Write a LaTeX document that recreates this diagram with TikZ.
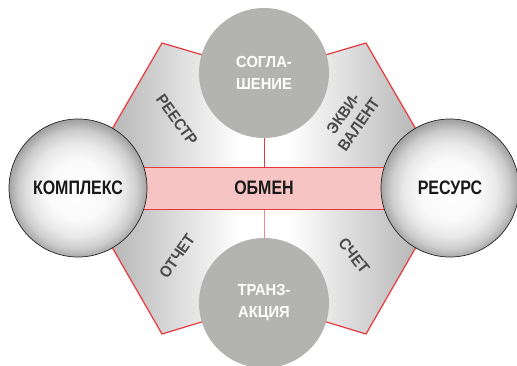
\documentclass[tikz,border=0pt]{standalone}
\usepackage{fontspec}
\newfontfamily\cfa{Liberation Sans}[FakeStretch=0.82]
\newfontfamily\cfb{Liberation Sans}[FakeStretch=0.92]
\definecolor{hexred}{HTML}{E8383D}
\definecolor{bandpink}{HTML}{F7C4C4}
\definecolor{lightred}{HTML}{F08A8A}
\definecolor{discgray}{HTML}{B3B3B1}
\definecolor{labgray}{HTML}{4A4A4A}
\pgfdeclareradialshading{spheresh}{\pgfpoint{0bp}{-1bp}}{color(0bp)=(white); color(11bp)=(white!98!black); color(17bp)=(white!91!black); color(21.5bp)=(white!80!black); color(25bp)=(black!36); color(50bp)=(black!36)}
\begin{document}
\begin{tikzpicture}[x=1pt,y=-1pt,
  sidecircle/.style={circle, draw=black!85, line width=0.7pt, shading=spheresh, minimum size=138pt, inner sep=0pt, font=\cfa\bfseries\fontsize{19.5}{20}\selectfont, text=black!90},
  midcircle/.style={circle, fill=discgray, minimum size=130pt, inner sep=0pt, font=\cfb\bfseries\fontsize{16}{22}\selectfont, text=white, align=center},
  edgelabel/.style={font=\cfb\bfseries\fontsize{16}{19}\selectfont, text=labgray, align=center},
  bandbox/.style={rectangle, fill=bandpink, draw=hexred, line width=1pt, minimum width=372pt, minimum height=42pt, inner sep=0pt, font=\cfa\bfseries\fontsize{19.5}{20}\selectfont, text=black!90},
  octline/.style={draw=hexred, line width=1.2pt, line join=miter},
]
\useasboundingbox (0,0) rectangle (517,365);
\coordinate (L) at (78,188);
\coordinate (TL) at (162,43);
\coordinate (TC) at (264,73);
\coordinate (TR) at (366,43);
\coordinate (R) at (450,188);
\coordinate (BR) at (366,334);
\coordinate (BC) at (264,303);
\coordinate (BL) at (162,334);
\begin{scope}
  \clip (L) -- (TL) -- (TC) -- (TR) -- (R) -- (BR) -- (BC) -- (BL) -- cycle;
  \shade[left color=black!28, right color=white] (112,43) rectangle (240,334);
  \shade[left color=white, right color=black!28] (288,43) rectangle (416,334);
  \fill[white] (239,43) rectangle (289,334);
  \fill[black!28] (70,43) rectangle (113,334);
  \fill[black!28] (415,43) rectangle (460,334);
\end{scope}
\path[octline] (L) -- (TL) -- (TC) -- (TR) -- (R) -- (BR) -- (BC) -- (BL) -- cycle;
\node[bandbox] (ob) at (264,188) {ОБМЕН};
\node[midcircle] (sog) at (264,73) {СОГЛА-\\ШЕНИЕ};
\node[midcircle] (tra) at (264,303) {ТРАНЗ-\\АКЦИЯ};
\draw[hexred, line width=1pt] (sog.south) -- (ob.north);
\draw[lightred, line width=1pt] (ob.south) -- (tra.north);
\node[sidecircle] (kom) at (78,188) {КОМПЛЕКС};
\node[sidecircle] (res) at (450,188) {РЕСУРС};
\node[edgelabel, rotate=-54] (reestr) at (177,120) {РЕЕСТР};
\node[edgelabel, rotate=55] (ekv) at (351,119) {ЭКВИ-\\ВАЛЕНТ};
\node[edgelabel, rotate=55] (otch) at (177,256) {ОТЧЕТ};
\node[edgelabel, rotate=-52] (schet) at (354,256) {СЧЕТ};
\end{tikzpicture}
\end{document}
